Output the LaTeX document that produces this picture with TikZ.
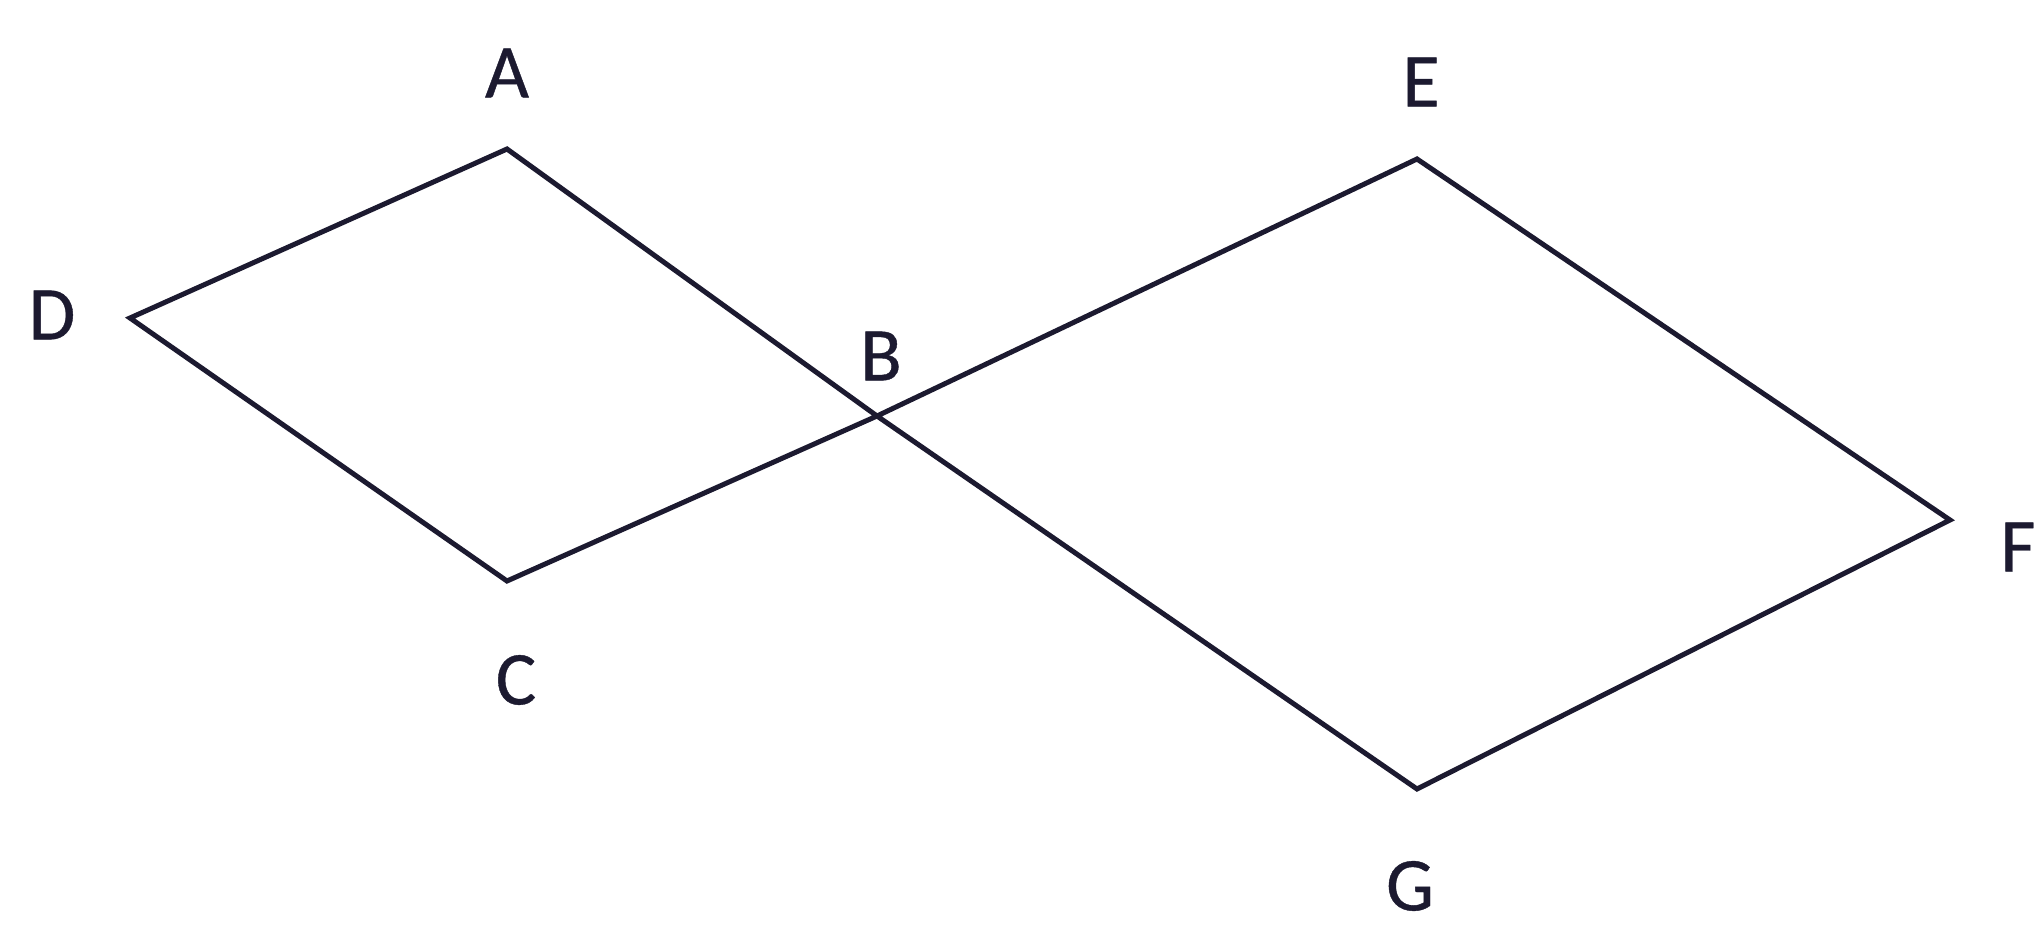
\documentclass[tikz,border=0pt]{standalone}
\usepackage{fontspec}
\setmainfont{Carlito}
\newfontfamily\labfont[FakeBold=0.5]{Carlito}
\definecolor{ink}{RGB}{28,26,48}
\begin{document}
\begin{tikzpicture}[x=1pt,y=-1pt,
  edge/.style={draw=ink,line width=5pt,line join=miter,line cap=round},
  lab/.style={inner sep=0pt,text=ink,font=\labfont\fontsize{76}{80}\selectfont}]
\useasboundingbox[fill=white] (0,0) rectangle (2038,931);
\coordinate (A) at (507,149);
\coordinate (D) at (130,318);
\coordinate (B) at (877,416);
\coordinate (C) at (507,581);
\coordinate (E) at (1417,159);
\coordinate (F) at (1950,520);
\coordinate (G) at (1417,789);
\node[lab] (lA) at (507,73) {A};
\node[lab] (lD) at (52,315) {D};
\node[lab] (lB) at (881,356) {B};
\node[lab] (lC) at (516,680) {C};
\node[lab] (lE) at (1421,82) {E};
\node[lab] (lF) at (2018,547) {F};
\node[lab] (lG) at (1410,886) {G};
\draw[edge] (B) -- (A) -- (D) -- (C) -- (B);
\draw[edge] (B) -- (E) -- (F) -- (G) -- (B);
\end{tikzpicture}
\end{document}
